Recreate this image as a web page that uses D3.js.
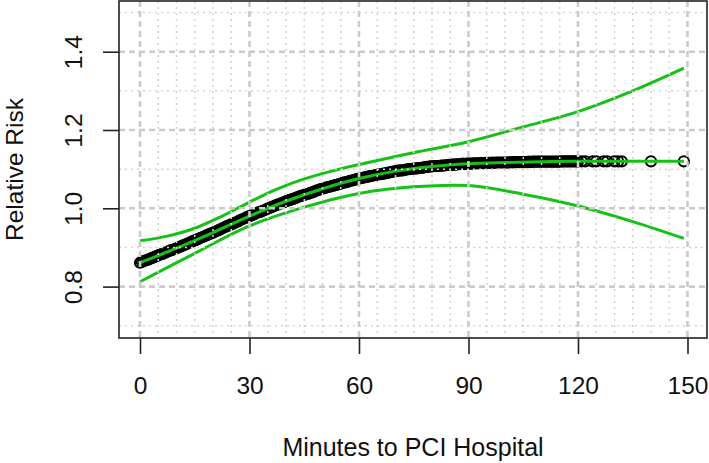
<!DOCTYPE html>
<html>
<head>
<meta charset="utf-8">
<script src="https://cdn.jsdelivr.net/npm/d3@7"></script>
<style>
  html, body { margin: 0; padding: 0; background: #fff; }
  svg { display: block; }
  text { font-family: "Liberation Sans", Arial, sans-serif; fill: #111; }
</style>
</head>
<body>
<svg id="chart" width="709" height="463"></svg>
<script>
// ---- data ----
const xTicks = [0, 30, 60, 90, 120, 150];
const yTicks = [0.8, 1.0, 1.2, 1.4];
const xMinorGrid = [5, 10, 15, 20, 25, 35, 40, 45, 50, 55, 65, 70, 75, 80, 85, 95, 100, 105, 110, 115, 125, 130, 135, 140, 145];
const yMinorGrid = [0.7, 0.9, 1.1, 1.3, 1.5];

// fitted relative risk (green centre line)
const fitX = [0, 10, 20, 30, 40, 50, 60, 70, 80, 90, 100, 110, 120, 149];
const fitY = [0.861, 0.898, 0.938, 0.980, 1.018, 1.050, 1.076, 1.095, 1.107, 1.114, 1.117, 1.119, 1.120, 1.120];

// confidence band
const upperX = [0, 7.5, 15, 22.5, 30, 37.5, 45, 52.5, 60, 75, 90, 105, 120, 135, 149];
const upperY = [0.917, 0.929, 0.949, 0.980, 1.016, 1.049, 1.075, 1.095, 1.112, 1.142, 1.170, 1.208, 1.247, 1.300, 1.358];
const lowerX = [0, 15, 30, 45, 60, 75, 90, 105, 120, 135, 149];
const lowerY = [0.8125, 0.885, 0.955, 1.003, 1.038, 1.055, 1.058, 1.036, 1.006, 0.966, 0.923];

// observed points (open circles): minutes and fitted RR
const pointX = [
  0,1,2,3,4,5,6,7,8,9,10,11,12,13,14,15,16,17,18,19,20,21,22,23,24,25,26,27,28,29,30,
  31,32,33,34,35,36,37,38,39,40,41,42,43,44,45,46,47,48,49,50,51,52,53,54,55,56,57,58,59,60,
  61,62,63,64,65,66,67,68,69,70,71,72,73,74,75,76,77,78,79,80,81,82,83,84,85,86,87,88,89,90,
  91,92,93,94,95,96,97,98,99,100,101,102,103,104,105,106,107,108,109,110,111,112,113,114,115,
  116,117,118,119,120,121,122,124,125,127,128,130,131,132,140,149];
const pointY = [
  0.861,0.865,0.868,0.872,0.876,0.880,0.883,0.887,0.891,0.894,0.898,
  0.902,0.906,0.910,0.914,0.918,0.922,0.926,0.930,0.934,0.938,
  0.942,0.946,0.951,0.955,0.959,0.963,0.967,0.972,0.976,0.980,
  0.984,0.988,0.991,0.995,0.999,1.003,1.007,1.010,1.014,1.018,
  1.021,1.024,1.028,1.031,1.034,1.037,1.040,1.044,1.047,1.050,
  1.053,1.055,1.058,1.060,1.063,1.066,1.068,1.071,1.073,1.076,
  1.078,1.080,1.082,1.084,1.086,1.087,1.089,1.091,1.093,1.095,
  1.096,1.097,1.099,1.100,1.101,1.102,1.103,1.105,1.106,1.107,
  1.108,1.108,1.109,1.110,1.110,1.111,1.112,1.113,1.113,1.114,
  1.114,1.115,1.115,1.115,1.116,1.116,1.116,1.117,1.117,1.117,
  1.117,1.117,1.118,1.118,1.118,1.118,1.118,1.119,1.119,1.119,
  1.119,1.119,1.119,1.119,1.119,1.120,1.120,1.120,1.120,1.120,
  1.120,1.120,1.120,1.120,1.120,1.120,1.120,1.120,1.120,1.120,1.120];
// further observations at half minutes
const pointX2 = [
  0.5,1.5,2.5,3.5,4.5,5.5,6.5,7.5,8.5,9.5,10.5,11.5,12.5,13.5,14.5,15.5,16.5,17.5,18.5,19.5,
  20.5,21.5,22.5,23.5,24.5,25.5,26.5,27.5,28.5,29.5,30.5,31.5,32.5,33.5,34.5,35.5,36.5,37.5,38.5,39.5,
  40.5,41.5,42.5,43.5,44.5,45.5,46.5,47.5,48.5,49.5,50.5,51.5,52.5,53.5,54.5,55.5,56.5,57.5,58.5,59.5,
  60.5,61.5,62.5,63.5,64.5,65.5,66.5,67.5,68.5,69.5,70.5,71.5,72.5,73.5,74.5,75.5,76.5,77.5,78.5,79.5,
  80.5,81.5,82.5,83.5,84.5,85.5,86.5,87.5,88.5,89.5,90.5,91.5,92.5,93.5,94.5,95.5,96.5,97.5,98.5,99.5,
  100.5,101.5,102.5,103.5,104.5,105.5,106.5,107.5,108.5,109.5,110.5,111.5,112.5,113.5,114.5,115.5,116.5,117.5,118.5,119.5];
const pointY2 = [
  0.863,0.867,0.870,0.874,0.878,0.882,0.885,0.889,0.893,0.896,
  0.900,0.904,0.908,0.912,0.916,0.920,0.924,0.928,0.932,0.936,
  0.940,0.944,0.949,0.953,0.957,0.961,0.965,0.970,0.974,0.978,
  0.982,0.986,0.990,0.993,0.997,1.001,1.005,1.009,1.012,1.016,
  1.020,1.023,1.026,1.030,1.033,1.036,1.039,1.042,1.046,1.049,
  1.052,1.054,1.057,1.059,1.062,1.065,1.067,1.070,1.072,1.075,
  1.077,1.079,1.081,1.083,1.085,1.087,1.088,1.090,1.092,1.094,
  1.096,1.097,1.098,1.100,1.101,1.102,1.103,1.104,1.106,1.107,
  1.108,1.108,1.109,1.110,1.111,1.112,1.112,1.113,1.114,1.114,
  1.114,1.115,1.115,1.116,1.116,1.116,1.117,1.117,1.117,1.117,
  1.117,1.118,1.118,1.118,1.118,1.118,1.119,1.119,1.119,1.119,
  1.119,1.119,1.119,1.119,1.119,1.120,1.120,1.120,1.120,1.120];

const xLabel = "Minutes to PCI Hospital";
const yLabel = "Relative Risk";

// ---- layout ----
const svg = d3.select("#chart");
const box = { left: 119, top: 1, right: 707, bottom: 338 };
const x = d3.scaleLinear().domain([0, 150]).range([140, 687.5]);
const y = d3.scaleLinear().domain([0.8, 1.4]).range([286.6, 51.7]);
const green = "#17c017";
const font = "'Liberation Sans', Arial, sans-serif";

svg.append("clipPath").attr("id", "plotclip")
  .append("rect").attr("x", box.left).attr("y", box.top)
  .attr("width", box.right - box.left).attr("height", box.bottom - box.top);

const plot = svg.append("g").attr("clip-path", "url(#plotclip)");

// points
const pts = pointX.map((v, i) => [v, pointY[i]]).concat(pointX2.map((v, i) => [v, pointY2[i]]));
plot.append("g").selectAll("circle")
  .data(pts)
  .join("circle")
  .attr("cx", d => x(d[0]))
  .attr("cy", d => y(d[1]))
  .attr("r", 5.1)
  .attr("fill", "none")
  .attr("stroke", "#000")
  .attr("stroke-width", 2);

// lines
const lineGen = d3.line().x(d => x(d[0])).y(d => y(d[1])).curve(d3.curveMonotoneX);
const ciGen = d3.line().x(d => x(d[0])).y(d => y(d[1])).curve(d3.curveCatmullRom.alpha(0.5));

plot.append("path")
  .attr("d", ciGen(upperX.map((v, i) => [v, upperY[i]])))
  .attr("fill", "none").attr("stroke", green).attr("stroke-width", 3);
plot.append("path")
  .attr("d", ciGen(lowerX.map((v, i) => [v, lowerY[i]])))
  .attr("fill", "none").attr("stroke", green).attr("stroke-width", 3);
plot.append("path")
  .attr("d", lineGen(fitX.map((v, i) => [v, fitY[i]])))
  .attr("fill", "none").attr("stroke", green).attr("stroke-width", 3);

// grid (drawn over the data)
const grid = plot.append("g");
grid.selectAll("line.vmin").data(xMinorGrid).join("line")
  .attr("x1", d => x(d)).attr("x2", d => x(d))
  .attr("y1", box.top).attr("y2", box.bottom)
  .attr("stroke", "#d3d3d3").attr("stroke-width", 1.5).attr("stroke-dasharray", "2,4");
grid.selectAll("line.hmin").data(yMinorGrid).join("line")
  .attr("y1", d => y(d)).attr("y2", d => y(d))
  .attr("x1", box.left).attr("x2", box.right)
  .attr("stroke", "#d3d3d3").attr("stroke-width", 1.5).attr("stroke-dasharray", "2,4");
grid.selectAll("line.vmaj").data(xTicks).join("line")
  .attr("x1", d => x(d)).attr("x2", d => x(d))
  .attr("y1", box.top).attr("y2", box.bottom)
  .attr("stroke", "#cbcbcb").attr("stroke-width", 2.6).attr("stroke-dasharray", "6,4");
grid.selectAll("line.hmaj").data(yTicks).join("line")
  .attr("y1", d => y(d)).attr("y2", d => y(d))
  .attr("x1", box.left).attr("x2", box.right)
  .attr("stroke", "#cbcbcb").attr("stroke-width", 2.6).attr("stroke-dasharray", "6,4");

// frame
svg.append("rect")
  .attr("x", box.left).attr("y", box.top)
  .attr("width", box.right - box.left).attr("height", box.bottom - box.top)
  .attr("fill", "none").attr("stroke", "#222").attr("stroke-width", 1.6);

// axes
const xAxis = d3.axisBottom(x).tickValues(xTicks).tickSize(16).tickPadding(0).tickFormat(d3.format("d"));
const gx = svg.append("g").attr("transform", `translate(0,${box.bottom})`).call(xAxis);
gx.select(".domain").remove();
gx.selectAll(".tick line").attr("stroke", "#222").attr("stroke-width", 1.6);
gx.selectAll(".tick text")
  .attr("y", 56).attr("dy", null)
  .style("font-size", "24.5px").style("font-family", font)
  .attr("fill", "#111");

const yAxis = d3.axisLeft(y).tickValues(yTicks).tickSize(16).tickFormat(d3.format(".1f"));
const gy = svg.append("g").attr("transform", `translate(${box.left},0)`).call(yAxis);
gy.select(".domain").remove();
gy.selectAll(".tick line").attr("stroke", "#222").attr("stroke-width", 1.6);
gy.selectAll(".tick text")
  .attr("x", null).attr("dy", null)
  .attr("transform", `translate(${82 - box.left},0) rotate(-90)`)
  .attr("text-anchor", "middle")
  .style("font-size", "24.5px").style("font-family", font)
  .attr("fill", "#111");

// titles
svg.append("text")
  .attr("x", (box.left + box.right) / 2).attr("y", 456)
  .attr("text-anchor", "middle")
  .style("font-size", "25px")
  .text(xLabel);
svg.append("text")
  .attr("transform", `translate(22.5,${(box.top + box.bottom) / 2}) rotate(-90)`)
  .attr("text-anchor", "middle")
  .style("font-size", "24.5px")
  .text(yLabel);
</script>
</body>
</html>
